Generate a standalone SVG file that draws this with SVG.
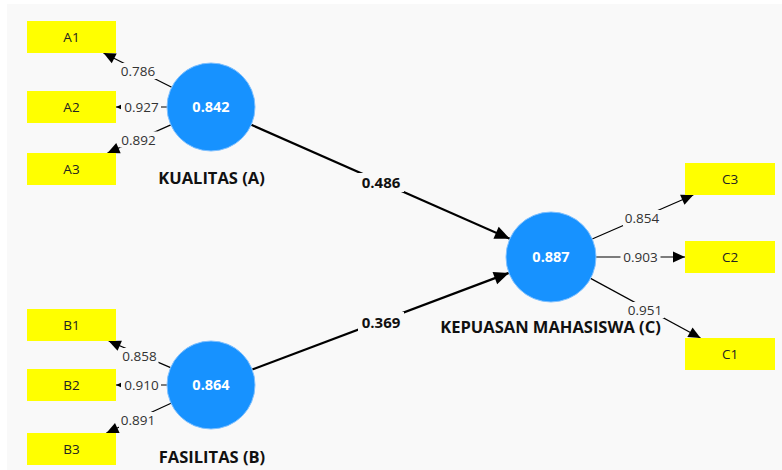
<svg xmlns="http://www.w3.org/2000/svg" width="782" height="470" viewBox="0 0 782 470">
  <defs>
    <marker id="ah" markerUnits="userSpaceOnUse" markerWidth="12" markerHeight="11" refX="12" refY="5.5" orient="auto" overflow="visible">
      <path d="M0,0 L12,5.5 L0,11 z" fill="#000"/>
    </marker>
    <marker id="ahb" markerUnits="userSpaceOnUse" markerWidth="15" markerHeight="13" refX="15" refY="6.5" orient="auto" overflow="visible">
      <path d="M0,0 L15,6.5 L0,13 z" fill="#000"/>
    </marker>
    <style>
      .ind rect { fill: #ffff00; }
      .ind text { font-family: "Open Sans", "Noto Sans", "DejaVu Sans", sans-serif; font-size: 13.5px; fill: #222; text-anchor: middle; }
      .lv circle { fill: #1792ff; stroke: #7fc0ff; stroke-width: 1; }
      .lv .val { font-family: "Open Sans", "Noto Sans", sans-serif; font-weight: bold; font-size: 14.5px; fill: #fff; text-anchor: middle; }
      .lv .name { font-family: "Open Sans", "Noto Sans", sans-serif; font-weight: bold; font-size: 16.5px; fill: #111; text-anchor: middle; }
      .ld { stroke: #000; stroke-width: 1.2; fill: none; marker-end: url(#ah); }
      .pth { stroke: #000; stroke-width: 2.2; fill: none; marker-end: url(#ahb); }
      .lbg { fill: #f9f9f9; }
      .ldt { font-family: "Open Sans", "Noto Sans", sans-serif; font-size: 13.5px; fill: #333; text-anchor: middle; }
      .pt { font-family: "Open Sans", "Noto Sans", sans-serif; font-weight: bold; font-size: 15px; fill: #111; text-anchor: middle; }
    </style>
  </defs>
  <rect x="0" y="0" width="782" height="470" fill="#ffffff"/>
  <rect x="7" y="4" width="775" height="466" fill="#f9f9f9"/>

  <g id="connectors">
    <!-- loadings A -->
    <line class="ld" x1="171.7" y1="87.2" x2="103.5" y2="53"/>
    <line class="ld" x1="167" y1="107" x2="116" y2="107"/>
    <line class="ld" x1="170.8" y1="124.9" x2="107.5" y2="153"/>
    <!-- loadings B -->
    <line class="ld" x1="170.6" y1="367.6" x2="108.7" y2="341"/>
    <line class="ld" x1="167" y1="385" x2="116" y2="385"/>
    <line class="ld" x1="171" y1="403.3" x2="106.4" y2="433"/>
    <!-- loadings C -->
    <line class="ld" x1="592.2" y1="239" x2="693.3" y2="195"/>
    <line class="ld" x1="596" y1="257" x2="685" y2="257"/>
    <line class="ld" x1="590.6" y1="278.4" x2="700.5" y2="338"/>
    <!-- paths -->
    <line class="pth" x1="251.3" y1="124.8" x2="509.8" y2="238.8"/>
    <line class="pth" x1="252.2" y1="369.5" x2="508.9" y2="272.9"/>

    <!-- labels -->
    <rect class="lbg" x="119" y="63" width="38" height="16"/>
    <text class="ldt" x="138" y="76">0.786</text>
    <rect class="lbg" x="121" y="99" width="40" height="16"/>
    <text class="ldt" x="141.5" y="112">0.927</text>
    <rect class="lbg" x="119.5" y="131.5" width="38" height="16"/>
    <text class="ldt" x="138.5" y="144.5">0.892</text>

    <rect class="lbg" x="120.5" y="348" width="38" height="16"/>
    <text class="ldt" x="139.5" y="361">0.858</text>
    <rect class="lbg" x="121" y="377" width="40" height="16"/>
    <text class="ldt" x="141.5" y="390">0.910</text>
    <rect class="lbg" x="119" y="412" width="38" height="16"/>
    <text class="ldt" x="138" y="425">0.891</text>

    <rect class="lbg" x="623" y="210" width="38" height="16"/>
    <text class="ldt" x="642" y="223">0.854</text>
    <rect class="lbg" x="620.5" y="249" width="40" height="16"/>
    <text class="ldt" x="640.5" y="262">0.903</text>
    <rect class="lbg" x="626" y="302" width="38" height="16"/>
    <text class="ldt" x="645" y="315">0.951</text>

    <rect class="lbg" x="358" y="173" width="46" height="19"/>
    <text class="pt" x="381" y="187.5">0.486</text>
    <rect class="lbg" x="358" y="312" width="46" height="19"/>
    <text class="pt" x="381" y="327.5">0.369</text>
  </g>

  <g id="A1" class="ind"><rect x="27" y="21" width="89" height="32"/><text x="71.5" y="42">A1</text></g>
  <g id="A2" class="ind"><rect x="27" y="91" width="89" height="32"/><text x="71.5" y="112">A2</text></g>
  <g id="A3" class="ind"><rect x="27" y="153" width="89" height="32"/><text x="71.5" y="174">A3</text></g>
  <g id="B1" class="ind"><rect x="27" y="309" width="89" height="32"/><text x="71.5" y="330">B1</text></g>
  <g id="B2" class="ind"><rect x="27" y="369" width="89" height="32"/><text x="71.5" y="390">B2</text></g>
  <g id="B3" class="ind"><rect x="27" y="433" width="89" height="32"/><text x="71.5" y="454">B3</text></g>
  <g id="C3" class="ind"><rect x="685" y="163" width="90" height="32"/><text x="730" y="184">C3</text></g>
  <g id="C2" class="ind"><rect x="685" y="241" width="90" height="32"/><text x="730" y="262">C2</text></g>
  <g id="C1" class="ind"><rect x="685" y="338" width="90" height="32"/><text x="730" y="359">C1</text></g>

  <g id="KUALITAS" class="lv">
    <circle cx="211" cy="107" r="44"/>
    <text class="val" x="211" y="112">0.842</text>
    <text class="name" x="211.5" y="184">KUALITAS (A)</text>
  </g>
  <g id="FASILITAS" class="lv">
    <circle cx="211" cy="385" r="44"/>
    <text class="val" x="211" y="390">0.864</text>
    <text class="name" x="212" y="463">FASILITAS (B)</text>
  </g>
  <g id="KEPUASAN" class="lv">
    <circle cx="551" cy="257" r="45"/>
    <text class="val" x="551" y="262">0.887</text>
    <text class="name" x="550.5" y="333">KEPUASAN MAHASISWA (C)</text>
  </g>
</svg>
